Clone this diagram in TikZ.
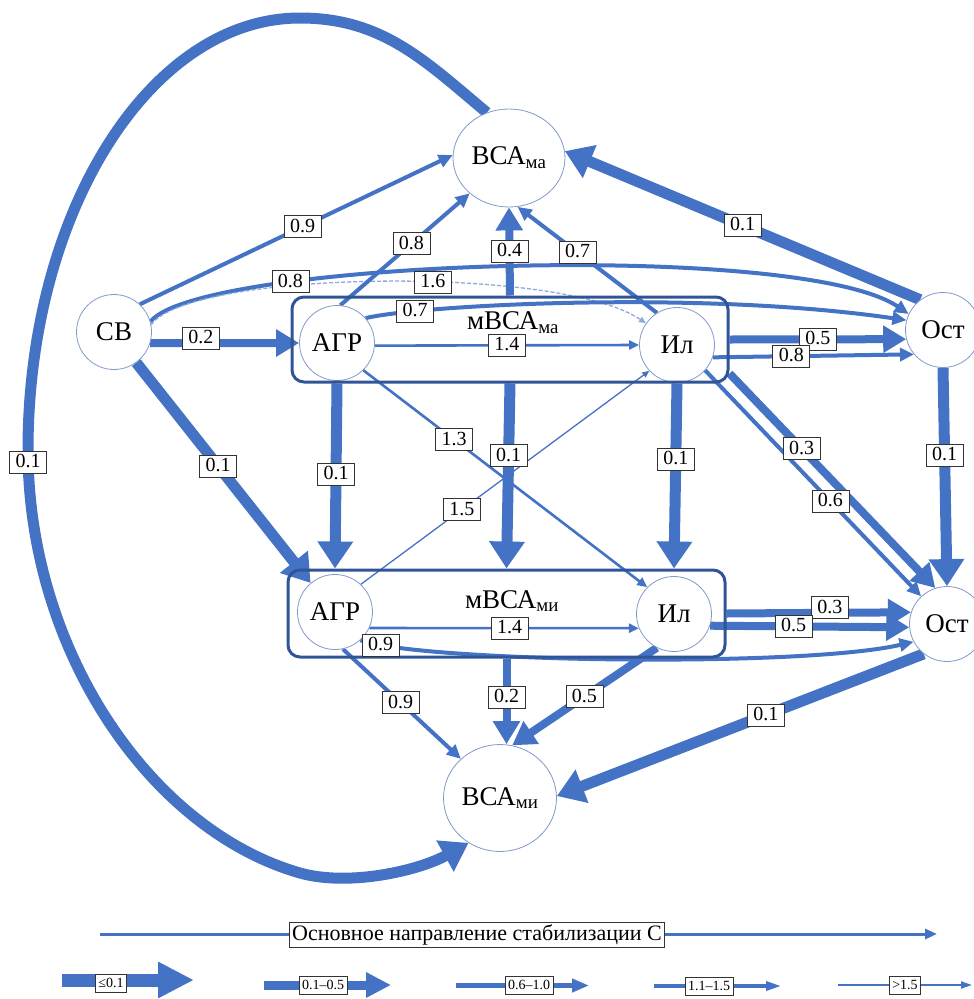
\documentclass[tikz,border=0pt]{standalone}
\usepackage{fontspec}
\setmainfont{Liberation Serif}
\usetikzlibrary{arrows.meta,shapes.geometric,calc}
\pgfdeclarelayer{bg}
\pgfsetlayers{bg,main}
\definecolor{ab}{HTML}{4472C4}
\definecolor{bx}{HTML}{2F5597}
\definecolor{cb}{HTML}{7F9AC9}
\definecolor{dl}{HTML}{8EA9DB}
\begin{document}
\begin{tikzpicture}[x=1pt,y=-1pt,
  circ/.style={circle, draw=cb, line width=0.8pt, fill=white, minimum size=75pt, inner sep=0pt, font=\fontsize{27}{30}\selectfont},
  ell/.style={ellipse, draw=cb, line width=0.8pt, fill=white, inner sep=0pt, font=\fontsize{27}{30}\selectfont},
  grp/.style={draw=bx, line width=3pt, rounded corners=12pt, inner sep=0pt},
  gtxt/.style={font=\fontsize{27}{30}\selectfont, inner sep=0pt},
  lab/.style={draw=black!80, line width=0.8pt, fill=white, font=\fontsize{20}{22}\selectfont, inner xsep=6pt, inner ysep=1.5pt, text height=15pt, text depth=4pt},
  lgl/.style={draw=black!80, line width=0.8pt, fill=white, font=\fontsize{14}{16}\selectfont, inner xsep=3pt, inner ysep=2pt, text height=11pt, text depth=3pt},
  mbox/.style={draw=black!80, line width=0.8pt, fill=white, font=\fontsize{22}{24}\selectfont, inner xsep=3pt, inner ysep=2pt, text height=16pt, text depth=5pt},
  edg/.style={draw=ab},
  wa/.style={edg, line width=11pt, -{Triangle[length=27pt,width=34pt]}},
  wb/.style={edg, line width=8pt, -{Triangle[length=23pt,width=26pt]}},
  wc/.style={edg, line width=4pt, -{Triangle[length=14pt,width=13pt]}},
  wd/.style={edg, line width=2.6pt, -{Triangle[length=10pt,width=9pt]}},
  we/.style={edg, line width=1.3pt, -{Triangle[length=7pt,width=6pt]}},
  la/.style={edg, line width=13pt, -{Triangle[length=36pt,width=34pt]}},
  lb/.style={edg, line width=9pt, -{Triangle[length=25pt,width=24pt]}},
  lc/.style={edg, line width=5pt, -{Triangle[length=17pt,width=13pt]}},
  ld/.style={edg, line width=3.3pt, -{Triangle[length=15pt,width=9pt]}},
  le/.style={edg, line width=2pt, -{Triangle[length=11pt,width=7pt]}},
  lm/.style={edg, line width=3pt, -{Triangle[length=12pt,width=10pt]}}
]
\useasboundingbox (0,0) rectangle (974,999);

% nodes
\node[circ] (sv) at (114,332) {СВ};
\node[circ] (agr1) at (337,343) {АГР};
\node[circ] (il1) at (677,345) {Ил};
\node[circ] (ost1) at (943,330) {Ост};
\node[ell, minimum width=112pt, minimum height=98pt] (vma) at (509,158) {ВСА\textsubscript{ма}};
\node[ell, minimum width=113pt, minimum height=107pt] (vmi) at (500,798) {ВСА\textsubscript{ми}};
\node[circ] (agr2) at (335,612) {АГР};
\node[circ] (il2) at (674,614) {Ил};
\node[circ] (ost2) at (947,624) {Ост};

\node[grp, minimum width=436pt, minimum height=85pt] (bma) at (510,339.5) {};
\node[grp, minimum width=437pt, minimum height=87pt] (bmi) at (506.5,613.5) {};
\node[gtxt] (tma) at (513,323) {мВСА\textsubscript{ма}};
\node[gtxt] (tmi) at (512,601) {мВСА\textsubscript{ми}};

\begin{pgfonlayer}{bg}
% upper part
\draw[wc] (sv.47) -- (vma.177) coordinate[pos=0.52] (L1);
\draw[wc] (sv.16) .. controls (200,260) and (800,240) .. (ost1.155) coordinate[pos=0.27] (L2);
\draw[we, draw=dl, dash pattern=on 4pt off 2pt] (sv.11) .. controls (190,270) and (560,265) .. (il1.145) coordinate[pos=0.58] (L3);
\draw[wc] (agr1.41) .. controls (420,305) and (700,290) .. (ost1.165) coordinate[pos=0.18] (L4);
\draw[wc] (agr1.85) -- (vma.222) coordinate[pos=0.55] (L5);
\draw[wb] (bma.north) -- (vma.south) coordinate[pos=0.5] (L6);
\draw[wc] (il1.122) -- (vma.-80) coordinate[pos=0.57] (L7);
\draw[wa] (ost1.127) -- (vma.7) coordinate[pos=0.5] (L8);
\draw[wa] (vma.116) to[out=140,in=0] (300,18)
   .. controls (150,18) and (28,212) .. (28,450)
   .. controls (28,650) and (150,830) .. (300,873) coordinate[pos=0.02] (L9)
   .. controls (350,887) and (420,870) .. (vmi.235);
\draw[wb] (sv.-17) -- (agr1.180) coordinate[pos=0.34] (L10);
\draw[wa] (sv.-54) -- (agr2.130) coordinate[pos=0.47] (L11);
\draw[wd] (agr1.-4) -- (il1.180) coordinate[pos=0.5] (L12);
\draw[wb] (bma.east) -- (ost1.194) coordinate[pos=0.5] (L13);
\draw[wc] (il1.-19) -- (ost1.220) coordinate[pos=0.39] (L14);
\draw[wb] ([yshift=10pt]bma.south east) -- (ost2.108) coordinate[pos=0.35] (L15);
\draw[wc] (il1.-42) -- (ost2.133) coordinate[pos=0.58] (L16);
\draw[wa] (ost1.south) -- (ost2.north) coordinate[pos=0.4] (L17);
% middle
\draw[wa] (agr1 |- bma.south) -- (agr2 |- bmi.north) coordinate[pos=0.49] (L18);
\draw[wa] (bma.south) -- (bmi.north) coordinate[pos=0.39] (L19);
\draw[wa] (il1 |- bma.south) -- (il2 |- bmi.north) coordinate[pos=0.41] (L20);
\draw[wd] (agr1.-46) -- (il2.135) coordinate[pos=0.32] (L21);
\draw[we] (agr2.47) -- (il1.223) coordinate[pos=0.35] (L22);
% lower part
\draw[wd] (agr2.-25) -- (il2.202) coordinate[pos=0.52] (L23);
\draw[wb] (bmi.east) -- (ost2.162) coordinate[pos=0.56] (L24);
\draw[wb] (il2.-18) -- (ost2.185) coordinate[pos=0.42] (L25);
\draw[wc] (agr2.-48) .. controls (420,662) and (800,668) .. (ost2.208) coordinate[pos=0.08] (L26);
\draw[wc] (agr2.-78) -- (vmi.135) coordinate[pos=0.49] (L27);
\draw[wb] (bmi.south) -- (bmi.south |- vmi.north) coordinate[pos=0.45] (L28);
\draw[wb] (il2.243) -- (vmi.77) coordinate[pos=0.5] (L29);
\draw[wa] (ost2.232) -- (vmi.2) coordinate[pos=0.43] (L30);
% legend
\coordinate (m0) at (100,934); \coordinate (m1) at (937,934);
\draw[lm] (m0) -- (m1);
\coordinate (g1a) at (62,980); \coordinate (g1b) at (194,980);
\coordinate (g2a) at (264,985); \coordinate (g2b) at (391,985);
\coordinate (g3a) at (456,985.5); \coordinate (g3b) at (589,985.5);
\coordinate (g4a) at (654,986); \coordinate (g4b) at (781,986);
\coordinate (g5a) at (838,985); \coordinate (g5b) at (972,985);
\draw[la] (g1a) -- (g1b);
\draw[lb] (g2a) -- (g2b);
\draw[lc] (g3a) -- (g3b);
\draw[ld] (g4a) -- (g4b);
\draw[le] (g5a) -- (g5b);
\end{pgfonlayer}

% labels
\node[lab] (t1) at (L1) {0.9};
\node[lab] (t2) at (L2) {0.8};
\node[lab] (t3) at (L3) {1.6};
\node[lab] (t4) at (L4) {0.7};
\node[lab] (t5) at (L5) {0.8};
\node[lab] (t6) at (L6) {0.4};
\node[lab] (t7) at (L7) {0.7};
\node[lab] (t8) at (L8) {0.1};
\node[lab] (t9) at (L9) {0.1};
\node[lab] (t10) at ([yshift=5pt]L10) {0.2};
\node[lab] (t11) at (L11) {0.1};
\node[lab] (t12) at (L12) {1.4};
\node[lab] (t13) at (L13) {0.5};
\node[lab] (t14) at (L14) {0.8};
\node[lab] (t15) at (L15) {0.3};
\node[lab] (t16) at (L16) {0.6};
\node[lab] (t17) at (L17) {0.1};
\node[lab] (t18) at (L18) {0.1};
\node[lab] (t19) at (L19) {0.1};
\node[lab] (t20) at (L20) {0.1};
\node[lab] (t21) at (L21) {1.3};
\node[lab] (t22) at (L22) {1.5};
\node[lab] (t23) at (L23) {1.4};
\node[lab] (t24) at ([yshift=5pt]L24) {0.3};
\node[lab] (t25) at (L25) {0.5};
\node[lab] (t26) at (L26) {0.9};
\node[lab] (t27) at (L27) {0.9};
\node[lab] (t28) at (L28) {0.2};
\node[lab] (t29) at (L29) {0.5};
\node[lab] (t30) at (L30) {0.1};

\node[mbox] (mt) at (477,935) {Основное направление стабилизации С};
\node[lgl] (k1) at (111,983) {≤0.1};
\node[lgl] (k2) at (323,985) {0.1–0.5};
\node[lgl] (k3) at (529,985) {0.6–1.0};
\node[lgl] (k4) at (709,986) {1.1–1.5};
\node[lgl] (k5) at (905,985) {>1.5};
\end{tikzpicture}
\end{document}
